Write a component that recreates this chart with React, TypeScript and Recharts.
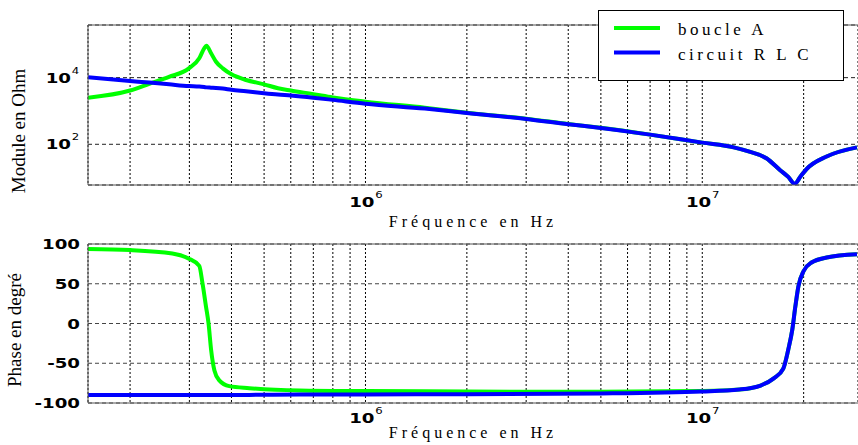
import React from "react";
import { LineChart, Line, XAxis, YAxis, CartesianGrid, ReferenceLine } from "recharts";

// module (Ohm) vs fréquence (Hz)
const moduleFreqs = [
  1.5e5, 2e5, 2.28e5, 2.61e5, 2.99e5, 3.21e5, 3.32e5, 3.37e5, 3.48e5, 3.6e5, 3.77e5, 4e5,
  4.42e5, 5e5, 5.5e5, 6e5, 7e5, 8e5, 1e6, 1.5e6, 2e6, 3e6, 4e6, 5e6, 7e6, 1e7, 1.24e7,
  1.38e7, 1.55e7, 1.7e7, 1.8e7, 1.88e7, 1.96e7, 2.04e7, 2.34e7, 2.88e7,
];
const moduleBoucleA = [
  2500, 4100, 6500, 10500, 19000, 38000, 76000, 91000, 54000, 30000, 19000, 12600,
  8500, 6300, 4800, 4100, 3200, 2550, 1900, 1250, 890, 585, 405, 312, 195, 112, 81,
  60, 38, 17, 10.5, 6.5, 11, 18, 43, 81,
];
const moduleRLC = [
  10200, 7900, 7100, 6300, 5600, 5400, 5200, 5100, 5000, 4900, 4700, 4300,
  3900, 3400, 3100, 2900, 2500, 2150, 1650, 1180, 870, 575, 400, 310, 195, 112, 81,
  60, 38, 17, 10.5, 6.5, 11, 18, 43, 81,
];

// phase (degrés)
const phaseFreqs = [
  1.5e5, 2e5, 2.67e5, 2.98e5, 3.21e5, 3.28e5, 3.36e5, 3.42e5, 3.48e5, 3.56e5, 3.68e5,
  3.94e5, 4.52e5, 6.37e5, 1e6, 2e6, 5e6, 1e7, 1.29e7, 1.49e7, 1.63e7, 1.74e7, 1.8e7,
  1.85e7, 1.89e7, 1.93e7, 2e7, 2.11e7, 2.34e7, 2.88e7,
];
const phaseBoucleA = [
  93.6, 92.4, 88, 81.8, 72.4, 51, 21.6, 0, -33, -59, -71.5, -78.8, -81.3, -84.2, -85,
  -85.5, -86, -85, -83, -78, -69, -56.7, -33, -8, 21.6, 47, 66, 76.7, 83, 87,
];
const phaseRLC = [
  -90, -90, -90, -90, -90, -90, -90, -90, -90, -90, -90, -89.9, -89.8, -89.3, -89.2,
  -89, -88, -85.5, -83, -78, -69, -56.7, -33, -8, 21.6, 47, 66, 76.7, 83, 87,
];

const gridFreqs = [
  2e5, 3e5, 4e5, 5e5, 6e5, 7e5, 8e5, 9e5, 1e6, 2e6, 3e6, 4e6, 5e6, 6e6, 7e6, 8e6, 9e6, 1e7, 2e7,
];
const decadeLabels = [1e6, 1e7];
const moduleTicks = [100, 10000];
const phaseTicks = [-100, -50, 0, 50, 100];

const seriesNames = ["boucle A", "circuit R L C"];
const seriesColors = ["#00ff00", "#0000ff"];

const moduleData = moduleFreqs.map((f, i) => ({ f, boucleA: moduleBoucleA[i], rlc: moduleRLC[i] }));
const phaseData = phaseFreqs.map((f, i) => ({ f, boucleA: phaseBoucleA[i], rlc: phaseRLC[i] }));

const TICK_FONT = "DejaVu Sans";
const SERIF = "Liberation Serif";

const XPowTick = (props: any) => {
  const { x, y, payload, baseline } = props;
  if (!decadeLabels.includes(payload.value)) return <g />;
  const exp = Math.round(Math.log10(payload.value));
  return (
    <g transform={`translate(${x + 9}, ${y + baseline}) scale(1.3, 1)`}>
      <text textAnchor="end" fontFamily={TICK_FONT} fontWeight="bold" fontSize={14} fill="#000">10</text>
      <text x={0.5} y={-9} fontFamily={TICK_FONT} fontSize={9} fill="#000">{exp}</text>
    </g>
  );
};

const YPowTick = (props: any) => {
  const { y, payload } = props;
  const exp = Math.round(Math.log10(payload.value));
  return (
    <g transform={`translate(71, ${y + 5}) scale(1.3, 1)`}>
      <text textAnchor="end" fontFamily={TICK_FONT} fontWeight="bold" fontSize={14} fill="#000">10</text>
      <text x={0.5} y={-9} fontFamily={TICK_FONT} fontSize={9} fill="#000">{exp}</text>
    </g>
  );
};

const PhaseTick = (props: any) => {
  const { y, payload } = props;
  return (
    <g transform={`translate(80, ${y + 5}) scale(1.3, 1)`}>
      <text textAnchor="end" fontFamily={TICK_FONT} fontWeight="bold" fontSize={14} fill="#000">
        {String(payload.value)}
      </text>
    </g>
  );
};

const xTitle = (offset: number) => (p: any) => {
  const vb = p.viewBox;
  return (
    <text x={vb.x + vb.width / 2} y={vb.y + offset} textAnchor="middle" fontFamily={SERIF}
      fontSize={16} fill="#000" style={{ letterSpacing: 4 }}>
      Fréquence en Hz
    </text>
  );
};

const yTitle = (text: string, bx: number, cy: number) => () => (
  <text transform={`translate(${bx}, ${cy}) rotate(-90)`} textAnchor="middle" fontFamily={SERIF}
    fontSize={19} fill="#000">
    {text}
  </text>
);

const App: React.FC = () => {
  return (
    <div style={{ position: "absolute", left: 0, top: 0, width: 858, height: 445, background: "#fff", overflow: "hidden" }}>
      <div style={{ position: "absolute", left: 0, top: 0 }}>
        <LineChart width={858} height={230} data={moduleData} margin={{ top: 25, right: 0, bottom: 0, left: 0 }}>
          <CartesianGrid horizontal={false} stroke="#000" strokeDasharray="2 2" />
          <CartesianGrid vertical={false} stroke="#222" strokeDasharray="4 3" />
          <XAxis dataKey="f" type="number" scale="log" domain={[150000, 29000000]} allowDataOverflow
            ticks={gridFreqs} interval={0} height={45} tickSize={0} tickMargin={0} tickLine={false}
            axisLine={{ stroke: "#555" }} tick={(p: any) => <XPowTick {...p} baseline={22} />}
            label={xTitle(42)} />
          <YAxis type="number" scale="log" domain={[6, 380000]} allowDataOverflow ticks={moduleTicks}
            width={88} tickSize={0} tickMargin={0} tickLine={false} axisLine={{ stroke: "#555" }}
            tick={(p: any) => <YPowTick {...p} />} label={yTitle("Module en Ohm", 25, 131)} />
          <ReferenceLine y={380000} stroke="#555" />
          <Line type="monotone" dataKey="boucleA" stroke={seriesColors[0]} strokeWidth={4} dot={false} isAnimationActive={false} />
          <Line type="monotone" dataKey="rlc" stroke={seriesColors[1]} strokeWidth={4} dot={false} isAnimationActive={false} />
        </LineChart>
      </div>

      <div style={{ position: "absolute", left: 0, top: 230 }}>
        <LineChart width={858} height={215} data={phaseData} margin={{ top: 14, right: 0, bottom: 0, left: 0 }}>
          <CartesianGrid horizontal={false} stroke="#000" strokeDasharray="2 2" />
          <CartesianGrid vertical={false} stroke="#444" strokeDasharray="4 3" />
          <XAxis dataKey="f" type="number" scale="log" domain={[150000, 29000000]} allowDataOverflow
            ticks={gridFreqs} interval={0} height={42} tickSize={0} tickMargin={0} tickLine={false}
            axisLine={{ stroke: "#555" }} tick={(p: any) => <XPowTick {...p} baseline={20} />}
            label={xTitle(35)} />
          <YAxis type="number" domain={[-100, 100]} allowDataOverflow ticks={phaseTicks} interval={0}
            width={88} tickSize={0} tickMargin={0} tickLine={false} axisLine={{ stroke: "#555" }}
            tick={(p: any) => <PhaseTick {...p} />} label={yTitle("Phase en degré", 21, 100)} />
          <ReferenceLine y={100} stroke="#555" />
          <Line type="monotone" dataKey="boucleA" stroke={seriesColors[0]} strokeWidth={4} dot={false} isAnimationActive={false} />
          <Line type="monotone" dataKey="rlc" stroke={seriesColors[1]} strokeWidth={4} dot={false} isAnimationActive={false} />
        </LineChart>
      </div>

      <div style={{ position: "absolute", left: 598, top: 10, width: 244, height: 69, border: "1px solid #000", background: "#fff" }}>
        <svg width={244} height={69}>
          {seriesNames.map((name, i) => (
            <g key={name}>
              <line x1={15} x2={61} y1={17 + i * 24.5} y2={17 + i * 24.5} stroke={seriesColors[i]} strokeWidth={4} />
              <text x={79} y={24 + i * 24.5} fontFamily={SERIF} fontSize={17} fill="#000" style={{ letterSpacing: 3.5 }}>
                {name}
              </text>
            </g>
          ))}
        </svg>
      </div>
    </div>
  );
};

export default App;
